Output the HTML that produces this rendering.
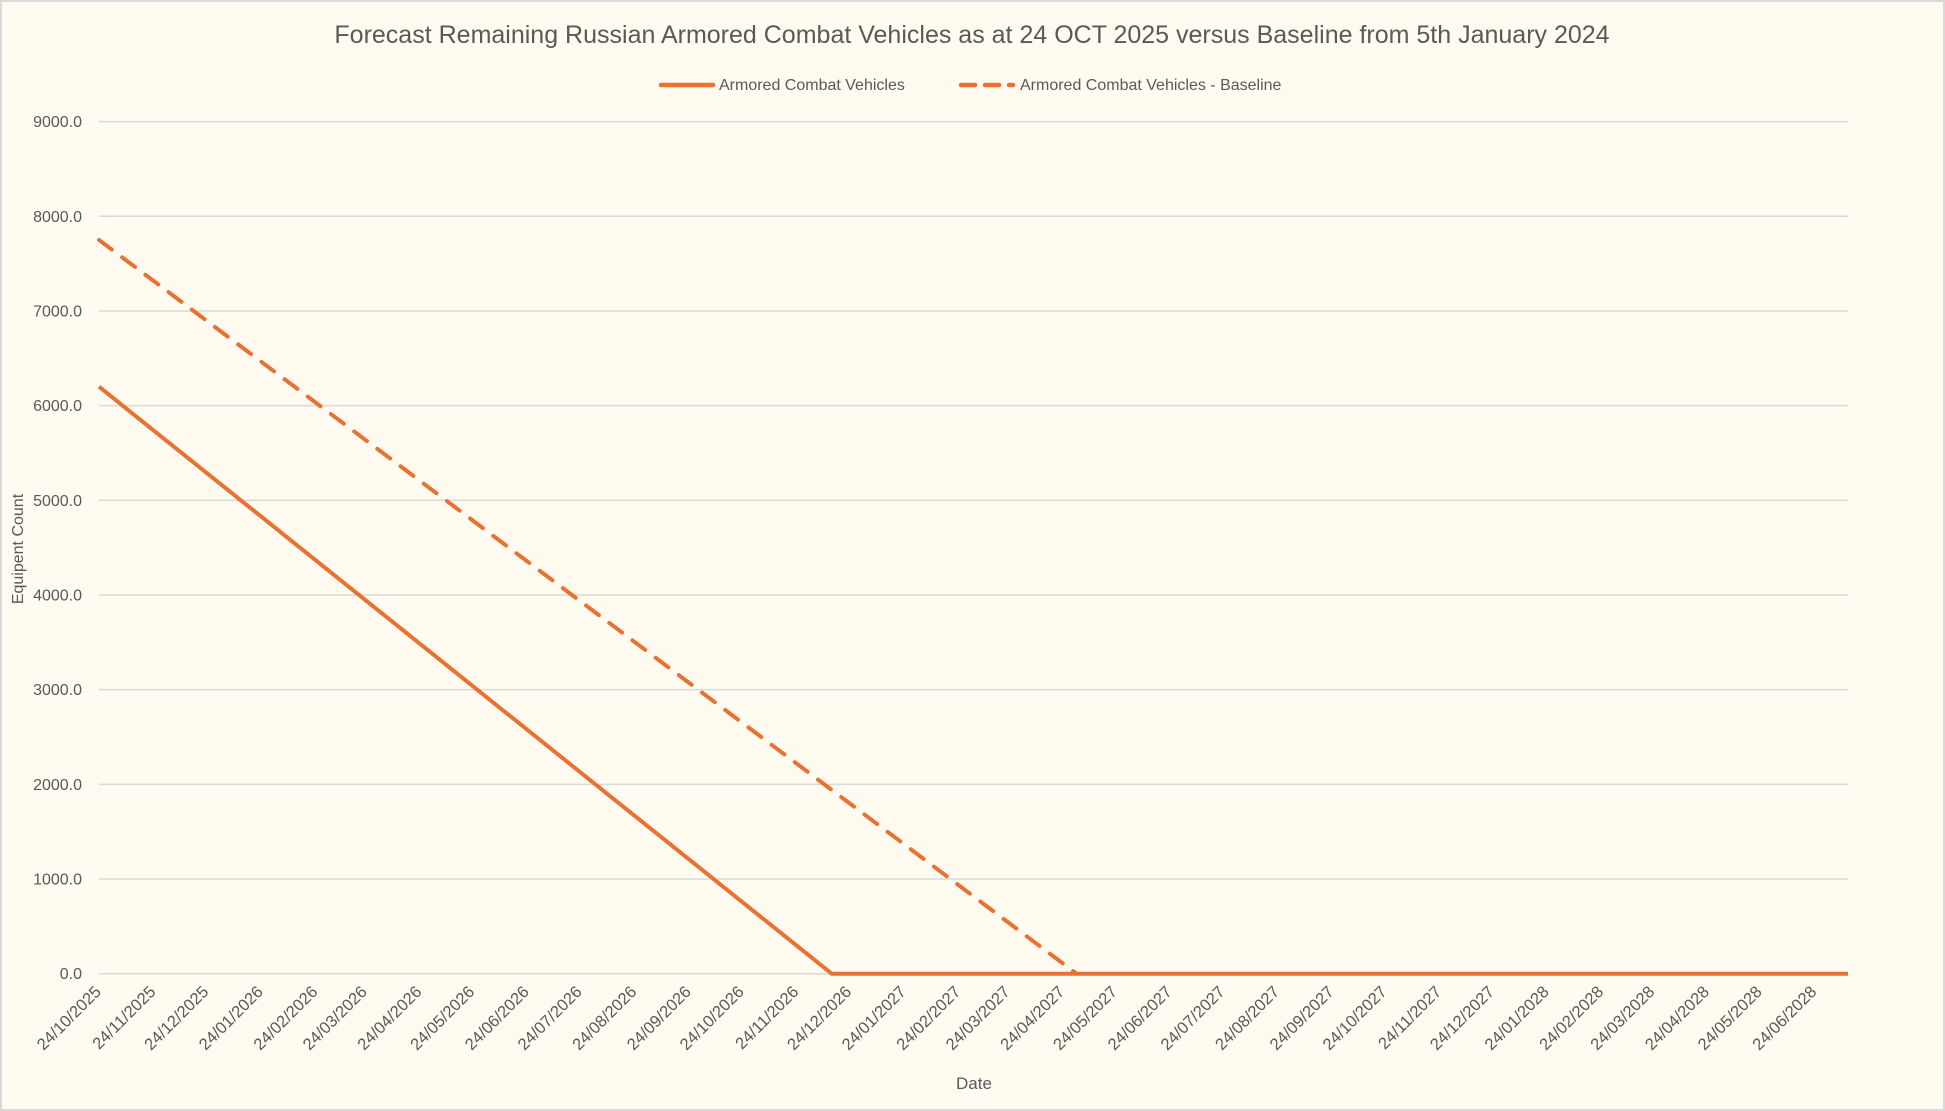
<!DOCTYPE html>
<html><head><meta charset="utf-8">
<style>
html,body{margin:0;padding:0;background:#fffbf0;}
svg{display:block;font-family:"Liberation Sans",sans-serif;}
</style></head>
<body>
<svg id="chart" width="1945" height="1111" viewBox="0 0 1945 1111">
<rect x="1" y="1" width="1943" height="1109" fill="#fffbf0" stroke="#d9d9d9" stroke-width="2"/>
<text x="972" y="43" text-anchor="middle" font-size="25" fill="#595959">Forecast Remaining Russian Armored Combat Vehicles as at 24 OCT 2025 versus Baseline from 5th January 2024</text>
<g>
<g>
<line x1="661" y1="85" x2="713" y2="85" stroke="#e97132" stroke-width="4.5" stroke-linecap="round"/>
<text x="719" y="90" font-size="16" fill="#595959">Armored Combat Vehicles</text></g>
<g>
<line x1="961" y1="85" x2="1013" y2="85" stroke="#e97132" stroke-width="4.5" stroke-dasharray="14,10" stroke-linecap="round"/>
<text x="1020" y="90" font-size="16" fill="#595959">Armored Combat Vehicles - Baseline</text></g>
</g>
<g id="grid"></g><g id="yt"></g><g id="xt"></g><g id="series"></g>
<text x="974" y="1089" text-anchor="middle" font-size="17" fill="#595959">Date</text>
<text transform="translate(23,549) rotate(-90)" text-anchor="middle" font-size="16" fill="#595959">Equipent Count</text>
</svg>
<script>
const yTicks=[0,1000,2000,3000,4000,5000,6000,7000,8000,9000];
const xTickLabels=["24/10/2025","24/11/2025","24/12/2025","24/01/2026","24/02/2026","24/03/2026","24/04/2026","24/05/2026","24/06/2026","24/07/2026","24/08/2026","24/09/2026","24/10/2026","24/11/2026","24/12/2026","24/01/2027","24/02/2027","24/03/2027","24/04/2027","24/05/2027","24/06/2027","24/07/2027","24/08/2027","24/09/2027","24/10/2027","24/11/2027","24/12/2027","24/01/2028","24/02/2028","24/03/2028","24/04/2028","24/05/2028","24/06/2028"];
const actualDates=["2025-10-24","2026-12-14","2028-07-13"];
const actualValues=[6200,0,0];
const baselineDates=["2025-10-24","2027-05-02"];
const baselineValues=[7750,0];
const axisStart="2025-10-24", axisEnd="2028-07-13";

const L=99,R=1848,T=121.6,B=973.7,YMAX=9000;
const NS="http://www.w3.org/2000/svg";
const day=s=>Date.parse(s+"T00:00:00Z")/864e5;
const x=s=>L+(day(s)-day(axisStart))/(day(axisEnd)-day(axisStart))*(R-L);
const y=v=>B-v/YMAX*(B-T);
function mk(tag,attrs,parent){const e=document.createElementNS(NS,tag);for(const k in attrs)e.setAttribute(k,attrs[k]);parent.appendChild(e);return e;}
const grid=document.getElementById('grid'),yt=document.getElementById('yt'),xt=document.getElementById('xt'),se=document.getElementById('series');
yTicks.forEach(v=>{
  const g=mk('line',{x1:L,x2:R,y1:y(v),y2:y(v),stroke:'#d9d9d9','stroke-width':1.5},grid);
  
  
  const t=mk('text',{x:82,y:y(v)+5.5,'text-anchor':'end','font-size':16,fill:'#595959'},yt);
  t.textContent=v.toFixed(1);
  
  
});
xTickLabels.forEach(lbl=>{
  const p=lbl.split('/');const iso=p[2]+'-'+p[1]+'-'+p[0];
  const px=x(iso)+3;
  const t=mk('text',{transform:`translate(${px},${B+19}) rotate(-45)`,'text-anchor':'end','font-size':16.5,fill:'#595959'},xt);
  t.textContent=lbl;
  
  
});
function pts(d,v){return d.map((s,i)=>x(s)+','+y(v[i])).join(' ');}
const a=mk('polyline',{points:pts(actualDates,actualValues),fill:'none',stroke:'#e97132','stroke-width':4,'stroke-linejoin':'round'},se);


const b=mk('polyline',{points:pts(baselineDates,baselineValues),fill:'none',stroke:'#e97132','stroke-width':4,'stroke-dasharray':'16,13','stroke-linecap':'round'},se);


</script>
</body></html>
